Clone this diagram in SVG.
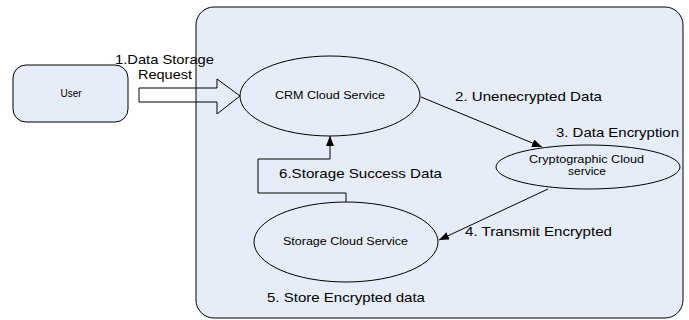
<svg xmlns="http://www.w3.org/2000/svg" width="689" height="320" viewBox="0 0 689 320">
<style>
.shape{fill:#e7edf8;stroke:#000;stroke-width:1}
.lbl{font-family:"Liberation Sans",Arial,sans-serif;font-size:13px;fill:#000}
.nt{font-family:"Liberation Sans",Arial,sans-serif;font-size:10px;fill:#000}
.conn{fill:none;stroke:#000;stroke-width:1}
</style>
<defs>
<marker id="ah" viewBox="0 0 10 8" refX="10" refY="4" markerWidth="10" markerHeight="8" markerUnits="userSpaceOnUse" orient="auto">
<path d="M0,0 L10,4 L0,8 Z" fill="#000"/>
</marker>
</defs>
<g id="cloud">
<rect class="shape" x="196" y="7" width="487" height="311" rx="18"/>
</g>
<g id="user">
<rect class="shape" x="13" y="65" width="115" height="57" rx="13"/>
<text class="nt" x="71" y="97" text-anchor="middle">User</text>
</g>
<g id="crm">
<ellipse class="shape" cx="330" cy="96" rx="90" ry="40"/>
<text class="nt" x="275" y="99" textLength="110" lengthAdjust="spacingAndGlyphs">CRM Cloud Service</text>
</g>
<g id="crypto">
<ellipse class="shape" cx="588" cy="167" rx="92" ry="22"/>
<text class="nt" x="529" y="163" textLength="115" lengthAdjust="spacingAndGlyphs">Cryptographic Cloud</text>
<text class="nt" x="568" y="175" textLength="38" lengthAdjust="spacingAndGlyphs">service</text>
</g>
<g id="storage">
<ellipse class="shape" cx="346" cy="242" rx="92" ry="40"/>
<text class="nt" x="283" y="245" textLength="125" lengthAdjust="spacingAndGlyphs">Storage Cloud Service</text>
</g>
<g id="connectors">
<polygon class="conn" points="139,88 217,88 217,79 240,96 217,114 217,102 139,102"/>
<line class="conn" x1="421" y1="97" x2="542" y2="147" marker-end="url(#ah)"/>
<line class="conn" x1="548" y1="189" x2="439" y2="240" marker-end="url(#ah)"/>
<path class="conn" d="M346,202 V193 H258 V159 H330 V136" marker-end="url(#ah)"/>
</g>
<g id="labels">
<text class="lbl" x="115" y="64" textLength="99" lengthAdjust="spacingAndGlyphs">1.Data Storage</text>
<text class="lbl" x="138" y="79" textLength="54" lengthAdjust="spacingAndGlyphs">Request</text>
<text class="lbl" x="455" y="101" textLength="147" lengthAdjust="spacingAndGlyphs">2. Unenecrypted Data</text>
<text class="lbl" x="556" y="137" textLength="123" lengthAdjust="spacingAndGlyphs">3. Data Encryption</text>
<text class="lbl" x="465" y="236" textLength="147" lengthAdjust="spacingAndGlyphs">4. Transmit Encrypted</text>
<text class="lbl" x="279" y="178" textLength="163" lengthAdjust="spacingAndGlyphs">6.Storage Success Data</text>
<text class="lbl" x="267" y="302" textLength="158" lengthAdjust="spacingAndGlyphs">5. Store Encrypted data</text>
</g>
</svg>
